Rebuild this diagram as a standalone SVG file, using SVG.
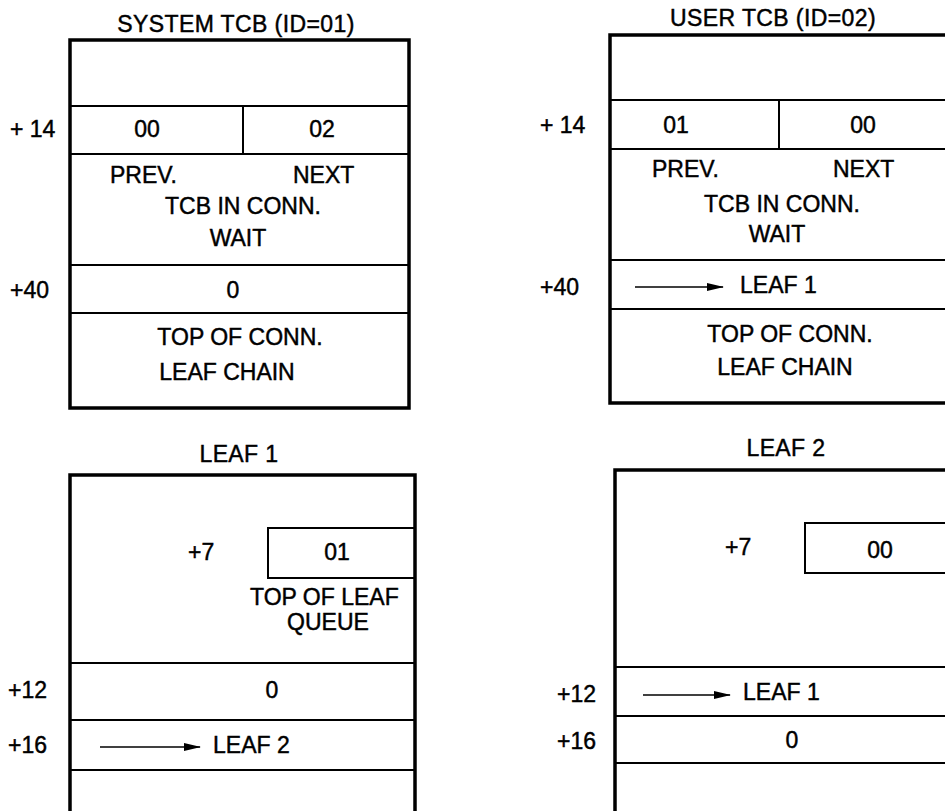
<svg xmlns="http://www.w3.org/2000/svg" width="945" height="811" viewBox="0 0 945 811">
<defs>
<style>
text{font-family:"Liberation Sans",Arial,sans-serif;font-size:23px;fill:#000;stroke:#000;stroke-width:0.45}
.m{text-anchor:middle}
.t{letter-spacing:0.4px}
.frame{fill:none;stroke:#000;stroke-width:3.5}
.row{fill:none;stroke:#000;stroke-width:2}
.arr{fill:none;stroke:#000;stroke-width:1.6;marker-end:url(#ah)}
</style>
<marker id="ah" viewBox="0 0 17 8" refX="16" refY="4" markerWidth="17" markerHeight="8" markerUnits="userSpaceOnUse" orient="auto">
<path d="M0,0 L17,4 L0,8 Z" fill="#000"/>
</marker>
</defs>
<rect width="945" height="811" fill="#fff"/>

<g id="system-tcb">
<text class="m t" x="236" y="32">SYSTEM TCB (ID=01)</text>
<rect class="frame" x="70" y="40" width="339" height="368"/>
<path class="row" d="M70 106H409M70 154H409M70 265H409M70 313H409M243 106V154"/>
<text x="10" y="137">+ 14</text>
<text class="m" x="147" y="137">00</text>
<text class="m" x="322" y="137">02</text>
<text x="110" y="183">PREV.</text>
<text x="293" y="183">NEXT</text>
<text class="m" x="243" y="214">TCB IN CONN.</text>
<text class="m" x="238" y="246">WAIT</text>
<text x="10" y="298">+40</text>
<text class="m" x="233" y="298">0</text>
<text class="m" x="240" y="345">TOP OF CONN.</text>
<text class="m" x="227" y="380">LEAF CHAIN</text>
</g>

<g id="user-tcb">
<text class="m t" x="773" y="26">USER TCB (ID=02)</text>
<path class="frame" d="M950 35H610V403H950"/>
<path class="row" d="M610 100H950M610 149H950M610 260H950M610 309H950M779 100V149"/>
<text x="540" y="133">+ 14</text>
<text class="m" x="676" y="133">01</text>
<text class="m" x="863" y="133">00</text>
<text x="652" y="177">PREV.</text>
<text x="833" y="177">NEXT</text>
<text class="m" x="782" y="212">TCB IN CONN.</text>
<text class="m" x="777" y="242">WAIT</text>
<text x="540" y="295">+40</text>
<text x="740" y="293">LEAF 1</text>
<text class="m" x="790" y="342">TOP OF CONN.</text>
<text class="m" x="785" y="375">LEAF CHAIN</text>
</g>

<g id="leaf-1">
<text class="m t" x="239" y="462">LEAF 1</text>
<path class="frame" d="M70 815V475H415V815"/>
<path class="row" d="M70 663H415M70 720H415M70 770H415"/>
<path class="row" d="M415 528H268V578H415"/>
<text x="188" y="560">+7</text>
<text class="m" x="337" y="560">01</text>
<text x="250" y="605">TOP OF LEAF</text>
<text class="m" x="328" y="630">QUEUE</text>
<text x="8" y="698">+12</text>
<text class="m" x="272" y="698">0</text>
<text x="8" y="753">+16</text>
<text x="213" y="753">LEAF 2</text>
</g>

<g id="leaf-2">
<text class="m t" x="786" y="456">LEAF 2</text>
<path class="frame" d="M615 815V470H950"/>
<path class="row" d="M615 667H950M615 716H950M615 763H950"/>
<path class="row" d="M950 523H805V573H950"/>
<text x="725" y="555">+7</text>
<text class="m" x="880" y="558">00</text>
<text x="557" y="702">+12</text>
<text x="743" y="700">LEAF 1</text>
<text x="557" y="749">+16</text>
<text class="m" x="792" y="748">0</text>
</g>

<g id="connectors">
<path class="arr" d="M635 287H723"/>
<path class="arr" d="M100 747H200"/>
<path class="arr" d="M643 695H730"/>
</g>
</svg>
